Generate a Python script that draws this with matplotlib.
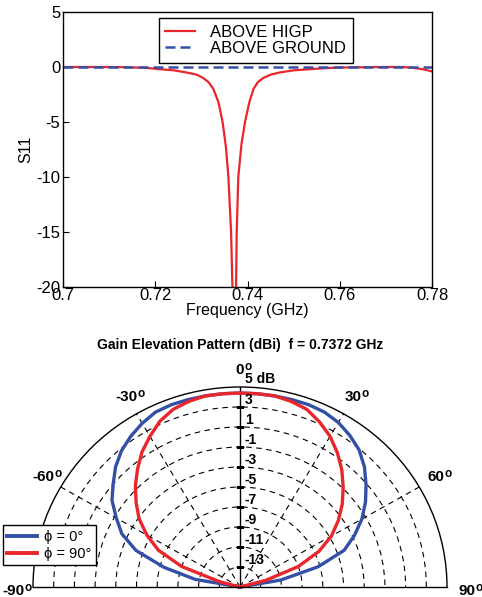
import numpy as np
import matplotlib
matplotlib.use("Agg")
import matplotlib.pyplot as plt
from matplotlib.lines import Line2D

plt.rcParams['font.family'] = ['Liberation Sans', 'DejaVu Sans']
plt.rcParams['axes.unicode_minus'] = False

# return loss sweep
freq_ghz = [0.700, 0.705, 0.710, 0.714, 0.718, 0.721, 0.724, 0.7268, 0.729, 0.7304,
            0.7316, 0.7326, 0.7337, 0.7346, 0.7353, 0.73586, 0.73644, 0.73673, 0.7371,
            0.73752, 0.73766, 0.7380, 0.7387, 0.73946, 0.7404, 0.7413, 0.7422, 0.7434,
            0.7450, 0.7470, 0.7500, 0.7535, 0.7570, 0.7600, 0.7650, 0.7700, 0.7737,
            0.7760, 0.7780, 0.7800]
s11_higp = [0, 0, 0, -0.02, -0.08, -0.2, -0.3, -0.5, -0.7, -1.0,
            -1.4, -2.0, -3.2, -5.0, -7.2, -10.0, -15.0, -20.0, -24.0,
            -20.0, -15.0, -10.0, -7.0, -5.0, -3.2, -2.0, -1.4, -1.0,
            -0.7, -0.5, -0.3, -0.2, -0.1, -0.05, -0.02, 0.0, 0.0,
            -0.08, -0.2, -0.4]
freq_gnd = [0.700, 0.780]
s11_gnd = [0.0, 0.0]

# elevation cut, degrees from zenith
elev_deg = list(range(-90, 95, 5))
gain_phi0 = [-15, -15, -10.6, -7.4, -4.3, -2.4, -1.2, 0.1, 1.0, 2.0, 2.8, 3.4, 3.9,
             4.3, 4.4, 4.4, 4.4, 4.4, 4.4, 4.4, 4.4, 4.4, 4.4, 4.3, 4.0, 3.5, 2.9,
             2.0, 0.9, -0.2, -1.4, -2.8, -4.3, -7.2, -11.0, -15, -15]
gain_phi90 = [-15, -15, -15, -13.0, -9.0, -6.3, -4.6, -3.1, -1.9, -0.7, 0.4, 1.5, 2.4,
              3.3, 3.9, 4.2, 4.4, 4.4, 4.4, 4.4, 4.4, 4.2, 3.9, 3.2, 2.4, 1.4, 0.3,
              -0.9, -2.1, -3.4, -4.8, -6.6, -9.0, -12.4, -15, -15, -15]
ring_db = [3, 1, -1, -3, -5, -7, -9, -11, -13]
spoke_deg = [-60, -30, 30, 60]
angle_labels = [-90, -60, -30, 0, 30, 60, 90]

RED = '#e8262c'
BLUE = '#3350a6'

fig = plt.figure(figsize=(4.82, 5.97), dpi=100)

# ---- S11 ----
ax = fig.add_axes([0.1307, 0.5193, 0.7656, 0.4606])
ax.plot(freq_ghz, s11_higp, color=RED, lw=1.6, label='ABOVE HIGP')
ax.plot(freq_gnd, s11_gnd, color=BLUE, lw=1.8, ls=(0, (4, 2)), label='ABOVE GROUND')
ax.set_xlim(0.70, 0.78)
ax.set_ylim(-20, 5)
ax.set_xticks([0.70, 0.72, 0.74, 0.76, 0.78])
ax.set_xticklabels(['0.7', '0.72', '0.74', '0.76', '0.78'])
ax.set_yticks([5, 0, -5, -10, -15, -20])
ax.tick_params(direction='in', labelsize=12, length=4, width=0.8, pad=2)
ax.tick_params(axis='x', pad=1)
for s in ax.spines.values():
    s.set_linewidth(1.0)
ax.set_xlabel('Frequency (GHz)', fontsize=11.5, labelpad=0)
ax.set_ylabel('S11', fontsize=11.5, labelpad=2)
leg = ax.legend(loc='upper center', bbox_to_anchor=(0.522, 0.978), fontsize=12,
                frameon=True, fancybox=False, edgecolor='black', framealpha=1,
                handlelength=1.8, handletextpad=0.9, borderpad=0.4, labelspacing=0.08,
                borderaxespad=0)
leg.get_frame().set_linewidth(1.0)

# ---- gain pattern ----
# with aspect 'auto' the half plane spans the box width and the middle half of its height
cx, cy, rx, ry = 240, 587, 207, 200
pax = fig.add_axes([(cx - rx) / 482, (597 - cy - ry / 2) / 597,
                    2 * rx / 482, 2 * ry / 597], projection='polar')
pax.set_aspect('auto')
pax.set_theta_zero_location('N')
pax.set_theta_direction(-1)
pax.set_thetamin(-90)
pax.set_thetamax(90)
pax.set_rlim(-15, 5)
pax.set_rgrids(ring_db, labels=[''] * len(ring_db))
pax.set_thetagrids(spoke_deg, labels=[''] * len(spoke_deg))
pax.grid(True, color='black', ls=(0, (5, 4)), lw=0.8)
for s in pax.spines.values():
    s.set_linewidth(1.0)
pax.plot([0, 0], [-15, 5], color='black', lw=1.0)
pax.plot([0] * len(ring_db), ring_db, ls='none', marker='_', ms=6, mew=0.8, color='black')

th = np.deg2rad(elev_deg)
pax.plot(th, gain_phi0, color=BLUE, lw=2.4, clip_on=False)
pax.plot(th, gain_phi90, color=RED, lw=2.4, clip_on=False)

for v in ring_db:
    pax.annotate(str(v), xy=(0, v), xytext=(5, 7), textcoords='offset pixels',
                 fontsize=10, fontweight='bold', ha='left', va='center')
pax.annotate('5 dB', xy=(0, 5), xytext=(5, 8), textcoords='offset pixels',
             fontsize=10, fontweight='bold', ha='left', va='center')

for a in angle_labels:
    ang = a if abs(a) < 90 else 91 * np.sign(a)
    r_lab = 6.9 if a != 0 else 6.7
    num = pax.text(np.deg2rad(ang), r_lab, '%d' % a, fontsize=11, fontweight='bold',
                   ha='center', va='center', clip_on=False)
    # degree mark drawn as a raised small 'o'
    pax.annotate('o', xy=(1.0, 1.15), xycoords=num, fontsize=8.5, fontweight='bold',
                 ha='left', va='top', annotation_clip=False)

fig.text(cx / 482, 1 - 345 / 597, 'Gain Elevation Pattern (dBi)  f = 0.7372 GHz',
         fontsize=10, fontweight='bold', ha='center', va='center')

handles = [Line2D([], [], color=BLUE, lw=2.8), Line2D([], [], color=RED, lw=2.8)]
fig.legend(handles, ['\u03d5 = 0\u00b0', '\u03d5 = 90\u00b0'], loc='lower left',
           bbox_to_anchor=(3 / 482, 1 - 565 / 597), fontsize=10.5, frameon=True,
           fancybox=False, edgecolor='black', framealpha=1, handlelength=2.0,
           handletextpad=0.5, borderpad=0.3, labelspacing=0.2, borderaxespad=0)

fig.savefig('out.png', dpi=100)
